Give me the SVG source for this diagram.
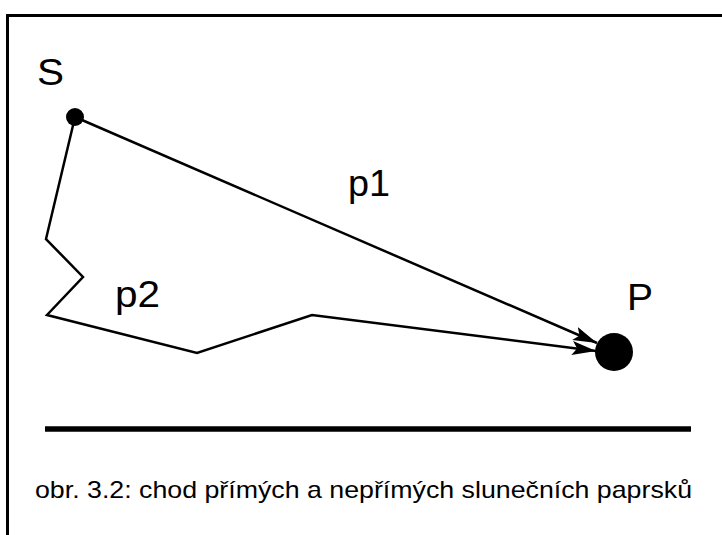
<svg xmlns="http://www.w3.org/2000/svg" width="722" height="535" viewBox="0 0 722 535">
<style>
.lbl{font-family:"Liberation Sans",Arial,sans-serif;fill:#000}
.ray{fill:none;stroke:#000;stroke-width:2.5;stroke-linejoin:miter}
</style>
<defs>
<marker id="ah" markerUnits="userSpaceOnUse" markerWidth="26" markerHeight="16" refX="24" refY="7" orient="auto">
<path d="M0,0 L24,7 L0,14 L5,7 Z" fill="#000"/>
</marker>
</defs>
<rect width="722" height="535" fill="#fff"/>
<path d="M7.5,535 V15.5 H722" fill="none" stroke="#000" stroke-width="3"/>
<g id="connectors">
<path id="p1" class="ray" d="M75,117 L597,343" marker-end="url(#ah)"/>
<path id="p2" class="ray" d="M75,117 L46,239 L83,277 L47,315 L197,353 L312,315 L596,351" marker-end="url(#ah)"/>
</g>
<g id="S">
<circle cx="75" cy="117" r="9" fill="#000"/>
<text class="lbl" x="37" y="85" font-size="36" textLength="27" lengthAdjust="spacingAndGlyphs">S</text>
</g>
<g id="P">
<circle cx="614" cy="352" r="19" fill="#000"/>
<text class="lbl" x="627" y="310" font-size="36" textLength="26" lengthAdjust="spacingAndGlyphs">P</text>
</g>
<text class="lbl" x="348" y="196" font-size="36" textLength="42" lengthAdjust="spacingAndGlyphs">p1</text>
<text class="lbl" x="115" y="307" font-size="36" textLength="45" lengthAdjust="spacingAndGlyphs">p2</text>
<line x1="45" y1="429" x2="691" y2="429" stroke="#000" stroke-width="5.5"/>
<text class="lbl" x="35" y="498" font-size="24" textLength="657" lengthAdjust="spacingAndGlyphs">obr. 3.2: chod přímých a nepřímých slunečních paprsků</text>
</svg>
